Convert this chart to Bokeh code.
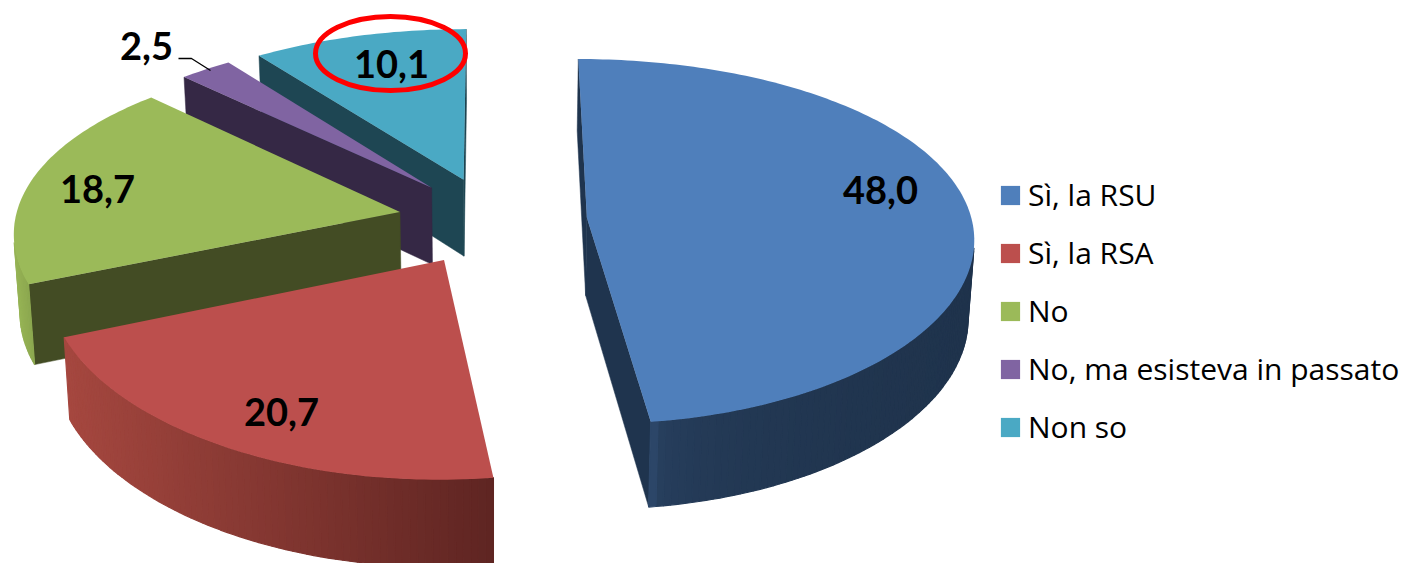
import math

from bokeh.core.properties import value
from bokeh.embed import file_html
from bokeh.models import ColumnDataSource, Legend, LegendItem, Range1d
from bokeh.plotting import figure
from bokeh.resources import INLINE

# Survey shares, clockwise from twelve o'clock
categories = ["Sì, la RSU", "Sì, la RSA", "No", "No, ma esisteva in passato", "Non so"]
shares = [48.0, 20.7, 18.7, 2.5, 10.1]

top_colors = ["#4F7FBB", "#BC4F4D", "#9BBA59", "#8064A2", "#4AA9C4"]
face_colors = ["#1F344E", "#5F2522", "#434C24", "#352845", "#1E4653"]
rim_light = ["#2C4668", "#A5473F", "#96B355", "#6A5488", "#2C6678"]
rim_dark = ["#1F334C", "#5F2522", "#8CA84F", "#352845", "#1E4653"]
rim_gamma = [0.25, 1.0, 1.0, 1.0, 1.0]

label_anchor = [(880, 189), (281, 411), (97, 188), (146, 45), (391, 63)]
leader_x = [178, 191, 210]
leader_y = [58, 58, 70]

# Perspective of the pie plane, in page pixels
XC, YC, RX, RY = 492.0, 220.0, 385.0, 180.0
PERSP_X, PERSP_Y = 0.10, 0.13
EXPLODE = 0.246
DEPTH = 78.0
BASE_SHRINK = 0.987


def project(px, py, base=False):
    wx = 1.0 - PERSP_X * py
    wy = 1.0 - PERSP_Y * py
    k = BASE_SHRINK if base else 1.0
    x = XC + RX * px / wx * k
    y = YC + RY * py / wy
    if base:
        y += DEPTH / wy ** 0.65
    return x, y


def lerp_color(c0, c1, t):
    a = [int(c0[i:i + 2], 16) for i in (1, 3, 5)]
    b = [int(c1[i:i + 2], 16) for i in (1, 3, 5)]
    return "#%02x%02x%02x" % tuple(round(u + (v - u) * t) for u, v in zip(a, b))


def front_facing(quad):
    area = 0.0
    for (x0, y0), (x1, y1) in zip(quad, quad[1:] + quad[:1]):
        area += x0 * y1 - x1 * y0
    return area < 0


p = figure(width=1402, height=563, output_backend="svg", toolbar_location=None,
           x_range=Range1d(0, 1402), y_range=Range1d(563, 0),
           min_border=0, outline_line_color=None)
p.axis.visible = False
p.grid.visible = False

total = sum(shares)
spans = []
start = 0.0
for share in shares:
    sweep = 2 * math.pi * share / total
    spans.append((start, start + sweep))
    start += sweep

# Farthest slices are painted first
order = [4, 3, 2, 1, 0]
tops = {}
for idx in order:
    a0, a1 = spans[idx]
    mid = (a0 + a1) / 2
    ox, oy = EXPLODE * math.sin(mid), -EXPLODE * math.cos(mid)
    n = max(3, int((a1 - a0) / math.radians(1.0)))
    angles = [a0 + (a1 - a0) * i / n for i in range(n + 1)]
    rim = [(ox + math.sin(t), oy - math.cos(t)) for t in angles]
    apex = (ox, oy)

    # Flat cut faces
    for e0, e1 in ((apex, rim[0]), (rim[-1], apex)):
        quad = [project(*e0), project(*e1), project(*e1, base=True), project(*e0, base=True)]
        if front_facing(quad):
            p.patch([q[0] for q in quad], [q[1] for q in quad], fill_color=face_colors[idx],
                    line_color=face_colors[idx], line_width=0.5)

    # Curved outer wall, shaded from left to right
    strips = []
    for r0, r1 in zip(rim, rim[1:]):
        quad = [project(*r0), project(*r1), project(*r1, base=True), project(*r0, base=True)]
        if front_facing(quad):
            strips.append(quad)
    if strips:
        xs_mid = [sum(q[0] for q in s) / 4 for s in strips]
        lo, hi = min(xs_mid), max(xs_mid)
        colors = [lerp_color(rim_light[idx], rim_dark[idx],
                             (max(0.0, (m - lo) / (hi - lo + 1e-9))) ** rim_gamma[idx]) for m in xs_mid]
        src = ColumnDataSource(dict(
            xs=[[q[0] for q in s] for s in strips],
            ys=[[q[1] for q in s] for s in strips],
            color=colors))
        p.patches("xs", "ys", source=src, fill_color="color", line_color="color", line_width=1.2)

    # Top face
    outline = [project(*apex)] + [project(*r) for r in rim]
    tops[idx] = p.patch([q[0] for q in outline], [q[1] for q in outline],
                        fill_color=top_colors[idx], line_color=None)

labels = [f"{v:.1f}".replace(".", ",") for v in shares]
p.text(x=[a[0] for a in label_anchor], y=[a[1] for a in label_anchor], text=labels,
       text_font=value("Lato"), text_font_style="bold", text_font_size="38px",
       text_color="#000000", text_align="center", text_baseline="middle")

p.line(leader_x, leader_y, line_color="#000000", line_width=1.3)

# Highlight around the "Non so" share
p.ellipse(x=[390], y=[53], width=[150], height=[74], fill_color=None,
          line_color="#FF0000", line_width=5)

legend = Legend(
    items=[LegendItem(label=c, renderers=[tops[i]]) for i, c in enumerate(categories)],
    location=(998, 563 - 447),
    orientation="vertical",
    glyph_width=24, glyph_height=24, label_height=24,
    label_standoff=6, spacing=17, padding=0, margin=0,
    border_line_color=None, background_fill_alpha=0,
    label_text_font="Open Sans", label_text_font_size="30px", label_text_color="#000000",
    label_text_baseline="middle",
)
p.add_layout(legend, "center")

open("out.html", "w").write(file_html(p, INLINE))
